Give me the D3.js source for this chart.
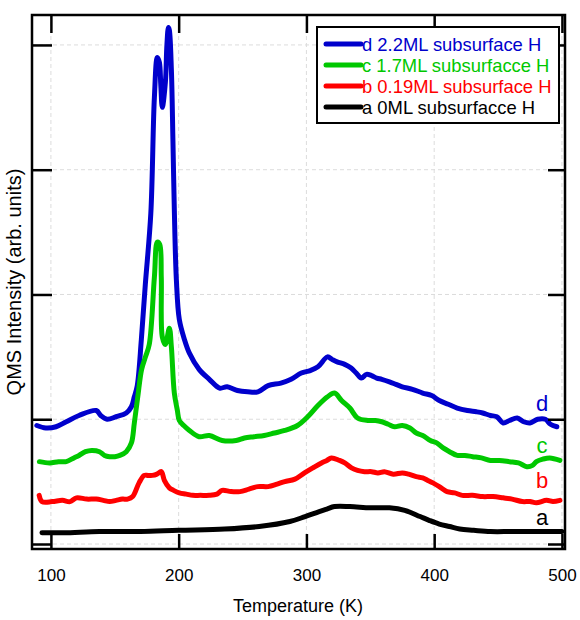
<!DOCTYPE html>
<html><head><meta charset="utf-8">
<script src="https://cdn.jsdelivr.net/npm/d3@7"></script>
<style>body{margin:0;background:#fff;} text{font-family:"Liberation Sans",Arial,sans-serif;}</style>
</head><body>
<svg id="c" width="580" height="620"></svg>
<script>
// ---- data (temperature K, intensity arb. units) ----
const seriesNames = ["d 2.2ML subsurface H","c 1.7ML subsurfacce H","b 0.19ML subsurface H","a 0ML subsurfacce H"];
const seriesLabels = ["d","c","b","a"];
const seriesColors = ["#0000cc","#00c800","#ff0000","#000000"];
const xTicks = [100,200,300,400,500];
const yTicks = [0,1,2,3,4];

const dT = [89,96,104,112,122,135.5,139,144,151,159,163,165.3,167.6,170.8,173.9,178.2,181,183.3,184.9,186,187.2,189.6,190.8,192,192.7,194.3,195.5,196.6,198.2,200.5,204.5,208.4,216,224,232,238,246,254,262,270,280,288,296,303,309,316.5,320,324,330,335,339,343,347,351,355,359,365,370,375,383,391,398,404,411,418,426,433,438,444,449,454,459,465,470,475,481,487,491,496];
const dI = [0.95,0.93,0.94,0.98,1.03,1.07,1.03,1.00,1.02,1.05,1.10,1.18,1.27,1.64,2.08,2.65,3.58,3.90,3.86,3.68,3.50,3.70,4.00,4.14,4.12,3.80,3.24,2.68,2.12,1.80,1.64,1.53,1.40,1.32,1.25,1.26,1.23,1.22,1.22,1.27,1.29,1.32,1.37,1.39,1.42,1.50,1.48,1.46,1.44,1.41,1.37,1.33,1.36,1.35,1.33,1.32,1.30,1.28,1.26,1.24,1.21,1.19,1.15,1.12,1.09,1.07,1.06,1.05,1.03,1.02,0.97,0.99,1.01,0.98,0.97,1.00,1.00,0.96,0.94];

const cT = [91,99,106,112,118,122,127,132,138,142,146,150,154,159,163,165.3,168,171,174,177,181,183.3,185.2,186.4,187.2,189.6,192.7,194.3,196.6,199,200.5,204,208.4,216,224,234,245,251.5,259,267,275,283,293,301,309,316.5,322,327.5,334,340,348,354,359,364,369,375,381,386,391,397,402,407,412,418,424,430,437,444,451,459,466,472.5,477,480,485,490.5,498.4];
const cI = [0.66,0.65,0.66,0.66,0.69,0.71,0.74,0.75,0.74,0.71,0.70,0.70,0.71,0.74,0.81,0.97,1.18,1.40,1.50,1.60,2.14,2.42,2.40,2.14,1.66,1.60,1.73,1.58,1.21,1.07,0.99,0.95,0.91,0.86,0.87,0.83,0.83,0.85,0.86,0.87,0.89,0.91,0.95,1.02,1.11,1.18,1.21,1.15,1.09,1.01,0.99,0.99,0.98,0.96,0.94,0.95,0.93,0.89,0.87,0.83,0.81,0.77,0.74,0.71,0.71,0.70,0.69,0.67,0.67,0.66,0.65,0.62,0.63,0.66,0.68,0.69,0.67];

const bT = [90.8,93,101,109,115,120,128,135.5,141,146,151,156,160,164,169,173,176,179.4,183,186.4,188.8,192.7,196,200.5,206,211,217,224,230,234,241,248,255,262,270,277,283,291,298.5,305,311.8,316,319.6,325.9,330,335.3,340,345.5,351,356,361,368,375,380,386,391,395,399,404,410,416,422,430,438,446,454,461,469,475,480,488,493,498.4];
const bI = [0.39,0.34,0.34,0.35,0.34,0.37,0.36,0.36,0.35,0.34,0.35,0.36,0.36,0.38,0.49,0.55,0.55,0.55,0.56,0.58,0.51,0.45,0.43,0.41,0.40,0.39,0.39,0.39,0.40,0.43,0.42,0.42,0.44,0.46,0.46,0.48,0.50,0.52,0.57,0.61,0.65,0.67,0.69,0.67,0.65,0.61,0.59,0.58,0.58,0.57,0.58,0.56,0.57,0.56,0.54,0.53,0.51,0.49,0.46,0.42,0.41,0.39,0.39,0.38,0.38,0.37,0.36,0.34,0.34,0.33,0.35,0.34,0.35];

const aT = [93,110,138,170,200,236,263,287,299,310,316,322,334,350,365,377,389,396,404,412,420,431,444,460,475,488,500];
const aI = [0.09,0.09,0.10,0.10,0.11,0.12,0.14,0.18,0.22,0.26,0.28,0.30,0.30,0.29,0.29,0.27,0.22,0.19,0.16,0.14,0.12,0.11,0.10,0.10,0.10,0.10,0.10];

const seriesT = [dT,cT,bT,aT];
const seriesI = [dI,cI,bI,aI];

// ---- layout ----
const svg = d3.select("#c");
const L = 32, R = 565, T = 15, B = 549;
const x = d3.scaleLinear().domain([85.2, 502.4]).range([L, R]);
const y = d3.scaleLinear().domain([-0.04, 4.24]).range([B, T]);

// grid
const grid = svg.append("g").attr("stroke","#dcdcdc").attr("stroke-width",1).attr("stroke-dasharray","4,3");
grid.selectAll("line.gx").data(xTicks).enter().append("line")
  .attr("x1",d=>x(d)).attr("x2",d=>x(d)).attr("y1",T).attr("y2",B);
grid.selectAll("line.gy").data(yTicks).enter().append("line")
  .attr("y1",d=>y(d)).attr("y2",d=>y(d)).attr("x1",L).attr("x2",R);

// series
const line = d3.line().x(d=>x(d[0])).y(d=>y(d[1])).curve(d3.curveCatmullRom.alpha(0.5));
seriesT.forEach((ts,i)=>{
  const pts = ts.map((t,k)=>[t, seriesI[i][k]]);
  svg.append("path").datum(pts).attr("d",line).attr("fill","none")
    .attr("stroke",seriesColors[i]).attr("stroke-width",5)
    .attr("stroke-linejoin","round").attr("stroke-linecap","round");
});

// axes with inward ticks
const sw = 2.5;
const axB = svg.append("g").attr("transform",`translate(0,${B})`)
  .call(d3.axisBottom(x).tickValues(xTicks).tickSizeInner(-15).tickSizeOuter(0).tickPadding(20));
const axT = svg.append("g").attr("transform",`translate(0,${T})`)
  .call(d3.axisTop(x).tickValues(xTicks).tickSizeInner(-18).tickSizeOuter(0).tickFormat(""));
const axL = svg.append("g").attr("transform",`translate(${L},0)`)
  .call(d3.axisLeft(y).tickValues(yTicks).tickSizeInner(-20).tickSizeOuter(0).tickFormat(""));
const axR = svg.append("g").attr("transform",`translate(${R},0)`)
  .call(d3.axisRight(y).tickValues(yTicks).tickSizeInner(-17).tickSizeOuter(0).tickFormat(""));
[axB,axT,axL,axR].forEach(a=>{
  a.select(".domain").remove();
  a.selectAll(".tick line").attr("stroke","#000").attr("stroke-width",sw);
});
axB.selectAll(".tick text").attr("font-size",17).attr("fill","#000")
  .attr("font-family","'Liberation Sans',Arial,sans-serif");

// frame
svg.append("rect").attr("x",L).attr("y",T).attr("width",R-L).attr("height",B-T)
  .attr("fill","none").attr("stroke","#000").attr("stroke-width",sw);

// curve labels at right
const labY = [403,445,480,517];
seriesLabels.forEach((s,i)=>{
  svg.append("text").attr("x",542).attr("y",labY[i]).attr("dy","0.35em")
    .attr("text-anchor","middle").attr("font-size",22).attr("fill",seriesColors[i]).text(s);
});

// legend
const lg = svg.append("g");
lg.append("rect").attr("x",317).attr("y",27).attr("width",242).attr("height",96)
  .attr("fill","#fff").attr("stroke","#000").attr("stroke-width",2);
const rowY = [44,65,86,107];
seriesNames.forEach((n,i)=>{
  lg.append("line").attr("x1",326).attr("x2",361).attr("y1",rowY[i]).attr("y2",rowY[i])
    .attr("stroke",seriesColors[i]).attr("stroke-width",5).attr("stroke-linecap","round");
  lg.append("text").attr("x",362).attr("y",rowY[i]).attr("dy","0.36em")
    .attr("font-size",18.4).attr("fill",seriesColors[i]).text(n);
});

// axis titles
svg.append("text").attr("x",298).attr("y",606).attr("dy","0.35em").attr("text-anchor","middle")
  .attr("font-size",18).text("Temperature (K)");
svg.append("text").attr("transform","translate(14,282) rotate(-90)").attr("dy","0.35em")
  .attr("text-anchor","middle").attr("font-size",20).text("QMS Intensity (arb. units)");
</script>
</body></html>
